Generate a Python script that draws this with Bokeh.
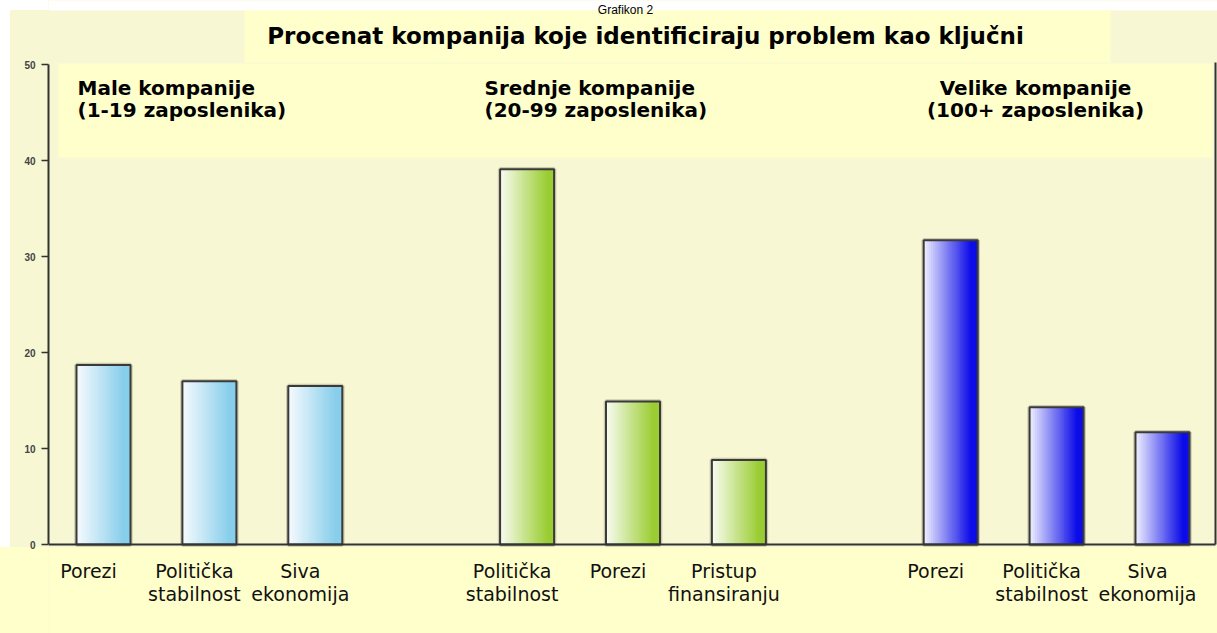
import numpy as np
from bokeh.plotting import figure
from bokeh.models import Range1d, FixedTicker
from bokeh.core.properties import value
from bokeh.embed import file_html
from bokeh.resources import INLINE

# ---------------- data ----------------
caption = "Grafikon 2"
chart_title = "Procenat kompanija koje identificiraju problem kao ključni"
group_titles = ["Male kompanije\n(1-19 zaposlenika)",
                "Srednje kompanije\n(20-99 zaposlenika)",
                "Velike kompanije\n(100+ zaposlenika)"]
male_labels = ["Porezi", "Politička\nstabilnost", "Siva\nekonomija"]
male_values = [18.7, 17.0, 16.5]
srednje_labels = ["Politička\nstabilnost", "Porezi", "Pristup\nfinansiranju"]
srednje_values = [39.1, 14.9, 8.8]
velike_labels = ["Porezi", "Politička\nstabilnost", "Siva\nekonomija"]
velike_values = [31.7, 14.3, 11.7]
y_ticks = [0, 10, 20, 30, 40, 50]

# ---------------- layout / style ----------------
W, H = 1217, 633
AXIS_PX = 48          # canvas x of the y axis
RIGHT_PX = 1215       # canvas x of the right frame line
Y0_PX, YTOP_PX = 544, 64
YMAX = 50
SLOT_PX = 105.9
FIRST_PX = 103.0
PX_PER_UNIT = (Y0_PX - YTOP_PX) / YMAX

def px2x(cx):
    return (cx - FIRST_PX) / SLOT_PX

def px2y(cy):
    return (Y0_PX - cy) / PX_PER_UNIT

BEIGE = "#F7F7D4"
BOX = "#FFFFCC"
LINE = "#333333"
FONT = value("DejaVu Sans")

groups = [
    (male_labels, male_values, "#F7FBFE", "#87CEEB"),
    (srednje_labels, srednje_values, "#FAFCF3", "#9ACD32"),
    (velike_labels, velike_values, "#F2F2FF", "#0C0CE8"),
]

p = figure(width=W, height=H, output_backend="svg", toolbar_location=None,
           x_range=Range1d(px2x(AXIS_PX), px2x(W)),
           y_range=Range1d(px2y(H), px2y(0)),
           x_axis_location=None, min_border=0, min_border_left=AXIS_PX)
p.grid.visible = False
p.outline_line_color = None
p.background_fill_color = BEIGE
p.border_fill_color = None
p.styles = {
    "background": (
        "linear-gradient(to bottom, rgba(0,0,0,0) 547px, %s 547px), "
        "linear-gradient(to bottom, #FFFFFF 10px, rgba(0,0,0,0) 10px), "
        "linear-gradient(to right, #FFFFFF 10px, %s 10px)" % (BOX, BEIGE)
    )
}

ax = p.yaxis[0]
ax.ticker = FixedTicker(ticks=y_ticks)
ax.bounds = (0, YMAX)
ax.axis_line_color = LINE
ax.axis_line_width = 2
ax.major_tick_line_color = LINE
ax.major_tick_line_width = 1.5
ax.major_tick_out = 7
ax.major_tick_in = 0
ax.minor_tick_out = 0
ax.minor_tick_in = 0
ax.major_label_standoff = 6
ax.major_label_text_font = "Liberation Sans"
ax.major_label_text_font_style = "bold"
ax.major_label_text_font_size = "10px"
ax.major_label_text_color = "#444444"

# ---- background boxes ----
x_lo, x_hi = px2x(AXIS_PX), px2x(W)
p.quad(left=[x_lo], right=[x_hi], bottom=[px2y(10)], top=[px2y(0)],
       fill_color="white", line_color=None)
p.quad(left=[px2x(244)], right=[px2x(1110)], bottom=[px2y(62)], top=[px2y(10)],
       fill_color=BOX, line_color=None)
p.quad(left=[px2x(58)], right=[px2x(1212)], bottom=[px2y(157)], top=[px2y(63)],
       fill_color=BOX, line_color=None)
p.quad(left=[x_lo], right=[x_hi], bottom=[px2y(H)], top=[px2y(547)],
       fill_color=BOX, line_color=None)

# ---- bars with horizontal gradient ----
BAR_W = 54.0 / SLOT_PX
N = 28

def mix(c1, c2, t):
    a = np.array([int(c1[i:i + 2], 16) for i in (1, 3, 5)], float)
    b = np.array([int(c2[i:i + 2], 16) for i in (1, 3, 5)], float)
    c = a + (b - a) * t
    return "#%02x%02x%02x" % tuple(int(round(v)) for v in c)

label_x, label_t = [], []
for g, (labels, vals, c_left, c_right) in enumerate(groups):
    xs = [g * 4 + i for i in range(len(vals))]
    label_x += xs
    label_t += labels
    # soft shadow
    p.vbar(x=xs, top=vals, bottom=0, width=BAR_W, fill_color=None,
           line_color="#7a7a60", line_alpha=0.35, line_width=4.5)
    sx, st, sc = [], [], []
    for k in range(N):
        t = (k + 0.5) / N
        col = mix(c_left, c_right, min(1.0, t / 0.88))
        for x, v in zip(xs, vals):
            sx.append(x - BAR_W / 2 + (k + 0.5) * BAR_W / N)
            st.append(v)
            sc.append(col)
    p.vbar(x=sx, top=st, bottom=0, width=BAR_W / N * 1.35, fill_color=sc,
           line_color=None)
    p.vbar(x=xs, top=vals, bottom=0, width=BAR_W, fill_color=None,
           line_color="#3a3a3a", line_width=2)

# ---- zero line and right frame line ----
p.segment(x0=[px2x(AXIS_PX)], x1=[px2x(RIGHT_PX)], y0=[0], y1=[0],
          line_color=LINE, line_width=2)
p.segment(x0=[px2x(RIGHT_PX)], x1=[px2x(RIGHT_PX)], y0=[0], y1=[px2y(62)],
          line_color=LINE, line_width=2)

# ---- texts ----
p.text(x=label_x, y=[px2y(559)] * len(label_x), text=label_t,
       text_font=FONT, text_font_size="19px", text_align="center",
       text_baseline="top", text_line_height=1.085, x_offset=-15,
       text_color="#111111")

gx = [px2x(77), px2x(484), px2x(1035)]
galign = ["left", "left", "center"]
for x, t, a in zip(gx, group_titles, galign):
    p.text(x=[x], y=[px2y(75)], text=[t], text_font=FONT, text_font_size="20px",
           text_font_style="bold", text_align=a, text_baseline="top",
           text_line_height=0.92, text_color="#000000")

p.text(x=[px2x(645)], y=[px2y(35)], text=[chart_title], text_font=FONT,
       text_font_size="23px", text_font_style="bold", text_align="center",
       text_baseline="middle", text_color="#000000")

p.text(x=[px2x(625)], y=[px2y(9.5)], text=[caption], text_font=value("Liberation Sans"),
       text_font_size="12px", text_align="center", text_baseline="alphabetic",
       text_color="#000000")

open("out.html", "w").write(file_html(p, INLINE))
